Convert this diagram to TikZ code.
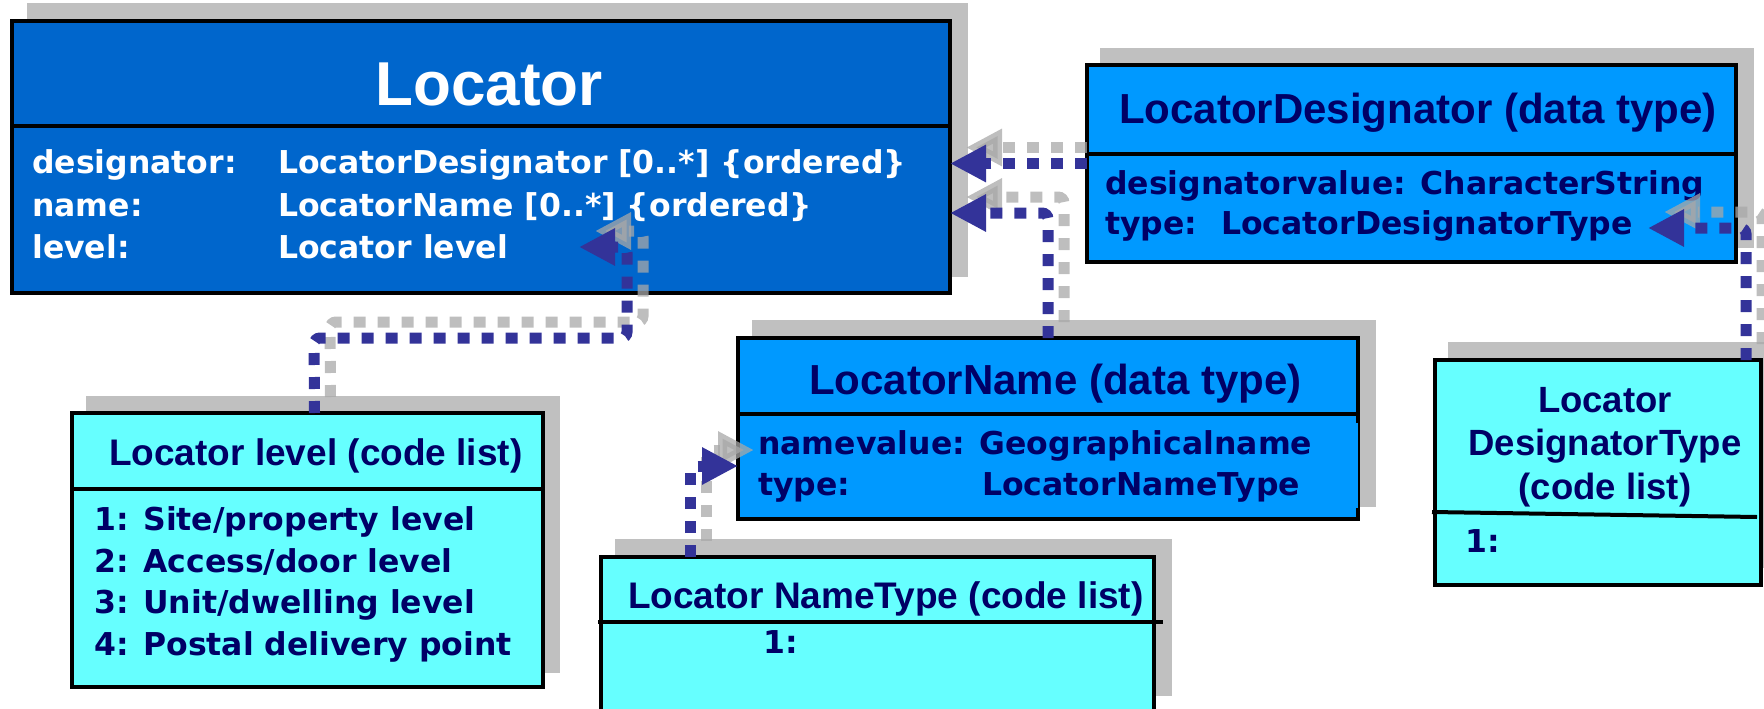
\documentclass[tikz,border=0pt]{standalone}
\usepackage{fontspec}
\newfontfamily\tf{Liberation Sans}
\newfontfamily\vf{DejaVu Sans}
\usetikzlibrary{arrows.meta}
\definecolor{locblue}{HTML}{0066CC}
\definecolor{dtblue}{HTML}{0099FF}
\definecolor{clcyan}{HTML}{66FFFF}
\definecolor{navy}{HTML}{000066}
\definecolor{connblue}{HTML}{333399}
\definecolor{shadowgray}{HTML}{C0C0C0}
\definecolor{connshadow}{HTML}{A8A8A8}
\begin{document}
\begin{tikzpicture}[x=1pt,y=-1pt,
  umlbox/.style={draw=black,line width=4pt,inner sep=0pt,outer sep=0pt,anchor=north west},
  sepline/.style={draw=black,line width=4pt},
  boxshadow/.style={fill=shadowgray},
  dttitle/.style={inner sep=0pt,anchor=base west,text=navy,font=\tf\bfseries\fontsize{42}{50}\selectfont},
  cltitle/.style={inner sep=0pt,anchor=base west,text=navy,font=\tf\bfseries\fontsize{37}{44}\selectfont},
  attr/.style={inner sep=0pt,anchor=base west,text=navy,font=\vf\bfseries\fontsize{31.5}{38}\selectfont},
  conn/.style={draw=connblue,line width=11pt,dash pattern=on 12pt off 12pt,rounded corners=6pt,
     -{Triangle[length=36pt,width=35pt]}},
  connsh/.style={conn,draw=connshadow,opacity=0.75}
]
\useasboundingbox (0,0) rectangle (1764,709);

% ---------- box shadows ----------
\fill[boxshadow] (27,3) rectangle (968,277);
\fill[boxshadow] (1100,48) rectangle (1754,248);
\fill[boxshadow] (752,320) rectangle (1376,507);
\fill[boxshadow] (86,396) rectangle (560,673);
\fill[boxshadow] (615,539) rectangle (1172,696);
\fill[boxshadow] (1448,342) rectangle (1780,568);

% ---------- Locator ----------
\node[umlbox,fill=locblue,minimum width=938pt,minimum height=272pt] (loc) at (12,21) {};
\draw[sepline] (12,126) -- (950,126);
\node[inner sep=0pt,anchor=base,text=white,font=\tf\bfseries\fontsize{62}{70}\selectfont] (loctitle) at (489,106) {Locator};
\node[attr,text=white] (la1) at (32,173) {designator:};
\node[attr,text=white] (lb1) at (278,173) {LocatorDesignator [0..*] \{ordered\}};
\node[attr,text=white] (la2) at (32,216) {name:};
\node[attr,text=white] (lb2) at (278,216) {LocatorName [0..*] \{ordered\}};
\node[attr,text=white] (la3) at (32,258) {level:};
\node[attr,text=white] (lb3) at (278,258) {Locator level};

% ---------- LocatorDesignator ----------
\node[umlbox,fill=dtblue,minimum width=649pt,minimum height=197pt] (desig) at (1087,65) {};
\draw[sepline] (1087,154) -- (1736,154);
\node[dttitle] (dtitle) at (1119,123) {LocatorDesignator (data type)};
\node[attr] (da1) at (1105,194) {designatorvalue: CharacterString};
\node[attr] (da2) at (1105,234) {type:};
\node[attr] (db2) at (1221,234) {LocatorDesignatorType};

% ---------- LocatorName ----------
\node[umlbox,fill=dtblue,minimum width=620pt,minimum height=181pt] (lname) at (738,338) {};
\draw[sepline] (738,414) -- (1358,414);
\fill[dtblue] (740,423) rectangle (1358,508);
\node[dttitle] (ntitle) at (809,394) {LocatorName (data type)};
\node[attr] (na1) at (758,454) {namevalue: Geographicalname};
\node[attr] (na2) at (758,495) {type:};
\node[attr] (nb2) at (982,495) {LocatorNameType};

% ---------- Locator level ----------
\node[umlbox,fill=clcyan,minimum width=471pt,minimum height=274pt] (level) at (72,413) {};
\draw[sepline] (72,489) -- (543,489);
\node[cltitle] (lvtitle) at (109,465) {Locator level (code list)};
\node[attr] (lv1) at (94,530) {1: Site/property level};
\node[attr] (lv2) at (94,572) {2: Access/door level};
\node[attr] (lv3) at (94,613) {3: Unit/dwelling level};
\node[attr] (lv4) at (94,655) {4: Postal delivery point};

% ---------- Locator NameType ----------
\node[umlbox,fill=clcyan,minimum width=553pt,minimum height=170pt] (ntype) at (601,557) {};
\draw[sepline] (598,622) -- (1163,622);
\node[cltitle] (nttitle) at (628,608) {Locator NameType (code list)};
\node[attr] (nt1) at (763,653) {1:};

% ---------- Locator DesignatorType ----------
\node[umlbox,fill=clcyan,minimum width=326pt,minimum height=225pt] (destype) at (1435,360) {};
\draw[sepline] (1432,512) -- (1757,517);
\node[inner sep=0pt,anchor=base,text=navy,font=\tf\bfseries\fontsize{36.5}{43.5}\selectfont] (dt1) at (1605,412) {Locator};
\node[inner sep=0pt,anchor=base,text=navy,font=\tf\bfseries\fontsize{36.5}{43.5}\selectfont] (dt2) at (1605,455) {DesignatorType};
\node[inner sep=0pt,anchor=base,text=navy,font=\tf\bfseries\fontsize{36.5}{43.5}\selectfont] (dt3) at (1605,499) {(code list)};
\node[attr] (dtv1) at (1465,552) {1:};

% ---------- connector way points ----------
\coordinate (c2) at (1048,213);
\coordinate (c3a) at (314,338);
\coordinate (c3b) at (627,338);
\coordinate (c3t) at (579,247);
\coordinate (c4t) at (1648,228);
\coordinate (c5) at (690,466);

% ---------- connector shadows ----------
\begin{scope}[transform canvas={shift={(16pt,16pt)}}]
\draw[connsh] ([xshift=-16pt]desig.west) -- (desig.west -| loc.east);
\draw[connsh] (lname.north) |- (c2 -| loc.east);
\draw[connsh] ([xshift=7pt]level.north) -- (c3a) -- (c3b) |- (c3t);
\draw[connsh] ([xshift=-15pt]destype.north east) |- (c4t);
\draw[connsh] ([xshift=89pt]ntype.north west) |- (c5 -| lname.west);
\end{scope}

% ---------- connectors ----------
\draw[conn] (desig.west) -- (desig.west -| loc.east);
\draw[conn] (lname.north) |- (c2 -| loc.east);
\draw[conn] ([xshift=7pt]level.north) -- (c3a) -- (c3b) |- (c3t);
\draw[conn] ([xshift=-15pt]destype.north east) |- (c4t);
\draw[conn] ([xshift=89pt]ntype.north west) |- (c5 -| lname.west);
\end{tikzpicture}
\end{document}
